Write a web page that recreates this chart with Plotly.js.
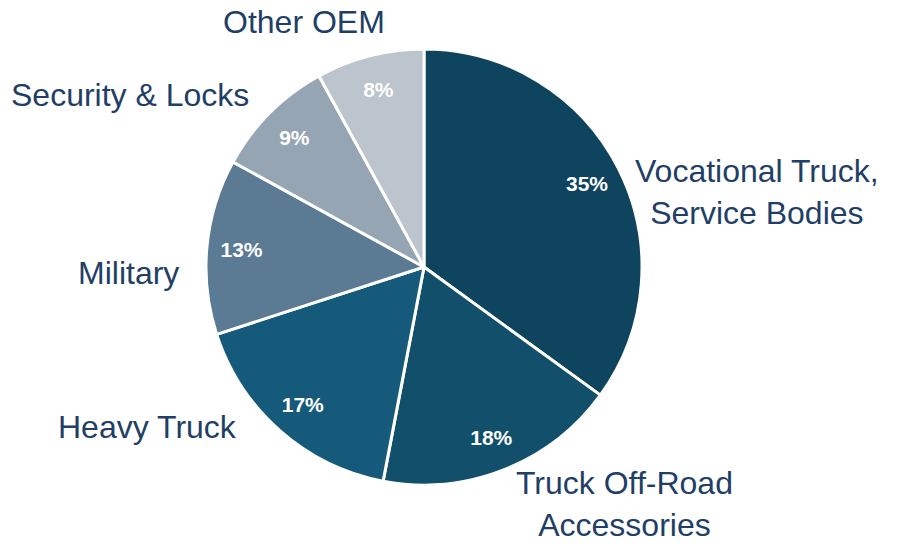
<!DOCTYPE html>
<html>
<head>
<meta charset="utf-8">
<script src="https://cdn.plot.ly/plotly-3.0.1.min.js"></script>
<style>
  html, body { margin: 0; padding: 0; background: #fff; }
  #pie { width: 897px; height: 547px; }
</style>
</head>
<body>
<div id="pie"></div>
<script>
// market segments, clockwise from 12 o'clock
const segments = ['Vocational Truck,<br>Service Bodies', 'Truck Off-Road<br>Accessories', 'Heavy Truck',
                  'Military', 'Security & Locks', 'Other OEM'];
const shares = [35, 18, 17, 13, 9, 8];
const colors = ['#0e445e', '#124f6b', '#155a7a', '#5b7a94', '#96a5b4', '#bcc4ce'];

// where each category label sits (pixels, centre of text)
const labelPos = [[757, 192], [624, 504], [147, 427], [128, 273], [130, 95], [304, 22]];

const W = 897, H = 547;
const cx = 424, cy = 267, R = 218;
const dom = {
    x: [(cx - R) / W, (cx + R) / W],
    y: [(H - cy - R) / H, (H - cy + R) / H]
};

let slices = {
    type: 'pie',
    values: shares,
    labels: segments,
    sort: false,
    direction: 'clockwise',
    rotation: 0,
    domain: dom,
    marker: { colors: colors, line: { color: '#ffffff', width: 3 } },
    textinfo: 'none',
    hoverinfo: 'label+percent'
};

// ring trace only to place the % labels near the rim
let pctRing = {
    type: 'pie',
    values: shares,
    labels: segments,
    sort: false,
    direction: 'clockwise',
    rotation: 0,
    hole: 0.68,
    domain: dom,
    marker: { colors: shares.map(() => 'rgba(0,0,0,0)'), line: { width: 0 } },
    textinfo: 'percent',
    textposition: 'inside',
    insidetextorientation: 'horizontal',
    insidetextfont: { family: 'Liberation Sans, Arial, sans-serif', size: 21, color: '#ffffff', weight: 'bold' },
    hoverinfo: 'skip'
};

let annotations = segments.map((s, i) => ({
    xref: 'paper', yref: 'paper',
    x: labelPos[i][0] / W,
    y: 1 - labelPos[i][1] / H,
    xanchor: 'center', yanchor: 'middle',
    text: s,
    showarrow: false,
    align: 'center',
    font: { family: 'Liberation Sans, Arial, sans-serif', size: 32, color: '#1f3f66' }
}));

let layout = {
    width: W,
    height: H,
    margin: { l: 0, r: 0, t: 0, b: 0 },
    paper_bgcolor: '#ffffff',
    showlegend: false,
    annotations: annotations
};

Plotly.newPlot('pie', [slices, pctRing], layout, { displayModeBar: false, staticPlot: true });
</script>
</body>
</html>
